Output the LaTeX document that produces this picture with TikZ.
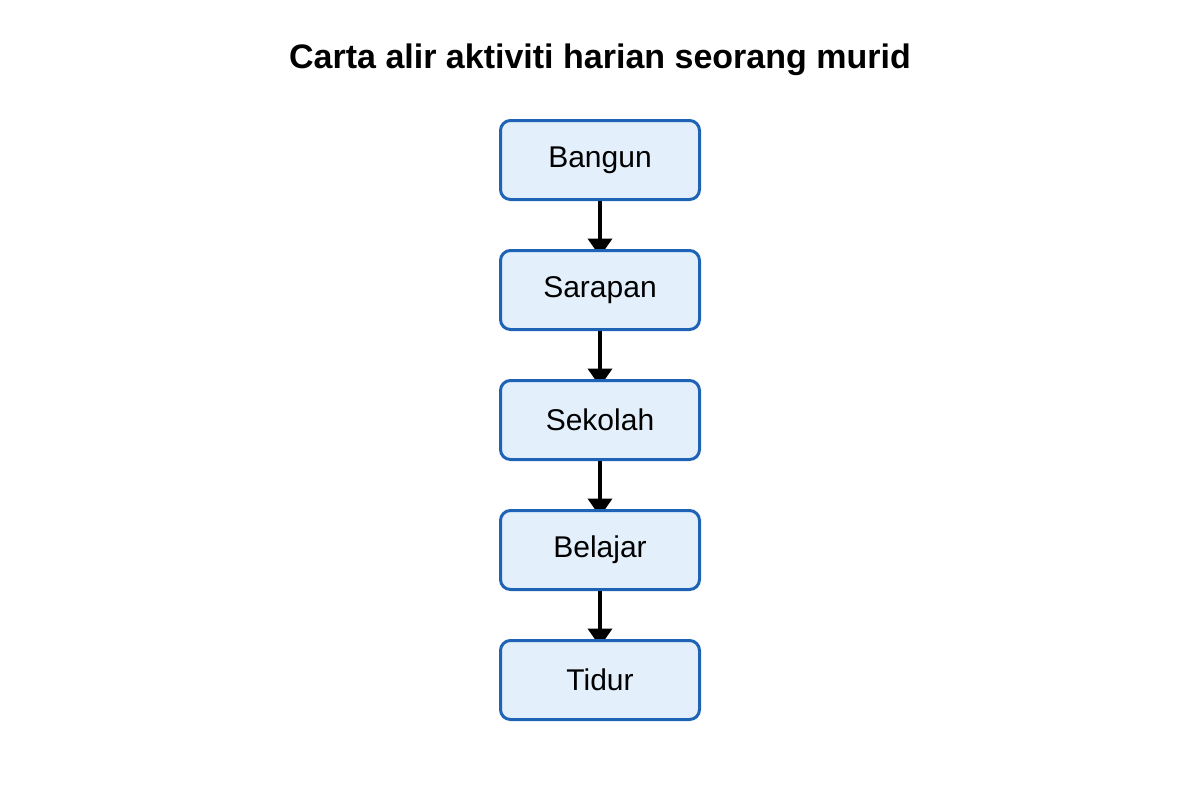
\documentclass[tikz,border=0pt]{standalone}
\usepackage{fontspec}
\setmainfont{Liberation Sans}
\usetikzlibrary{matrix,arrows.meta,backgrounds}

\definecolor{boxline}{HTML}{1E63B5}
\definecolor{boxfill}{HTML}{E3F0FC}

\tikzset{
    stepbox/.style={rectangle,draw=boxline,fill=boxfill,line width=1.5pt,rounded corners=5pt,
        minimum width=99.5pt,minimum height=39.5pt,inner sep=0pt,outer sep=0pt,font=\fontsize{15}{18}\selectfont},
    flow/.style={line width=2pt,-{Triangle[width=12pt,length=9pt]},shorten >=-3pt}
}

\begin{document}
\begin{tikzpicture}[x=0.5pt,y=-0.5pt]
    \useasboundingbox (0,0) rectangle (1200,800);
    \node[font=\bfseries\fontsize{17}{20}\selectfont] (title) at (600,60) {Carta alir aktiviti harian seorang murid};
    \matrix (m) [matrix of nodes,nodes={stepbox},row sep=24pt] at (600,420)
    {
        Bangun \\
        Sarapan \\
        Sekolah \\
        Belajar \\
        Tidur \\
    };
    \begin{scope}[on background layer]
        \draw[flow] (m-1-1.south) -- (m-2-1.north);
        \draw[flow] (m-2-1.south) -- (m-3-1.north);
        \draw[flow] (m-3-1.south) -- (m-4-1.north);
        \draw[flow] (m-4-1.south) -- (m-5-1.north);
    \end{scope}
\end{tikzpicture}
\end{document}
